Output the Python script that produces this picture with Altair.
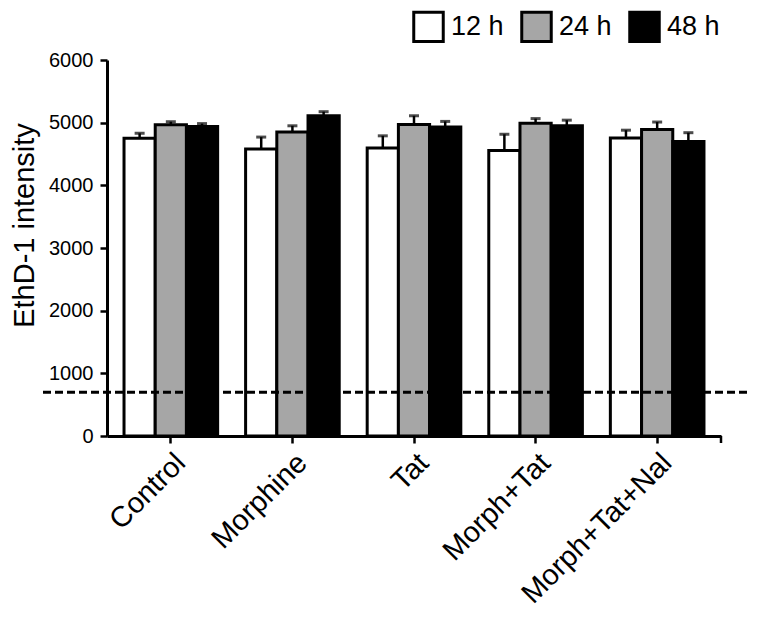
import altair as alt
import pandas as pd

groups = ["Control", "Morphine", "Tat", "Morph+Tat", "Morph+Tat+Nal"]
times = ["12 h", "24 h", "48 h"]
v12 = [4750, 4580, 4595, 4555, 4755]
v24 = [4965, 4850, 4970, 4990, 4890]
v48 = [4940, 5110, 4930, 4950, 4700]
e12 = [80, 190, 195, 260, 125]
e24 = [50, 100, 140, 75, 120]
e48 = [45, 65, 90, 90, 140]
threshold = [700]
y_ticks = [0, 1000, 2000, 3000, 4000, 5000, 6000]

rows = []
for i, g in enumerate(groups):
    for t, vals, errs in zip(times, [v12, v24, v48], [e12, e24, e48]):
        rows.append({"group": g, "time": t, "value": vals[i], "upper": vals[i] + errs[i]})
df = pd.DataFrame(rows)

FONT = "Liberation Sans"
W, H = 614, 376
YTITLE = "EthD-1 intensity"

x_enc = alt.X(
    "group:N", sort=groups, title=None,
    scale=alt.Scale(paddingInner=0.23, paddingOuter=0.14),
    axis=alt.Axis(labelAngle=-45, labelFontSize=29, labelFont=FONT, labelColor="black",
                  labelPadding=5, tickSize=7, tickWidth=2.5, tickColor="black",
                  domainColor="black", domainWidth=3, labelLimit=400),
)
xo_enc = alt.XOffset("time:N", sort=times, scale=alt.Scale(paddingInner=0, paddingOuter=0))

y_scale = alt.Scale(domain=[0, 6000], nice=False)
y_axis = alt.Axis(values=y_ticks, format="d", grid=False, labelFontSize=20, labelFont=FONT,
                  labelColor="black", labelPadding=7, tickSize=7, tickWidth=2.5, tickColor="black",
                  domainColor="black", domainWidth=3, titleFontSize=29, titleFont=FONT,
                  titleFontWeight="normal", titleColor="black", titlePadding=9, titleY=165)

bars = alt.Chart(df).mark_bar(stroke="black", strokeWidth=3).encode(
    x=x_enc, xOffset=xo_enc,
    y=alt.Y("value:Q", scale=y_scale, axis=y_axis, title=YTITLE),
    fill=alt.Fill("time:N", sort=times,
                  scale=alt.Scale(domain=times, range=["#ffffff", "#a6a6a6", "#000000"]),
                  legend=alt.Legend(orient="none", legendX=305, legendY=-50, direction="horizontal",
                                    title=None, symbolType="square", symbolSize=870,
                                    symbolStrokeColor="black", symbolStrokeWidth=3,
                                    labelFontSize=27, labelFont=FONT, labelColor="black",
                                    labelOffset=6, columnPadding=11, padding=0)),
)

stems = alt.Chart(df).mark_rule(color="black", strokeWidth=2.5).encode(
    x=x_enc, xOffset=xo_enc,
    y=alt.Y("value:Q", scale=y_scale, axis=y_axis, title=YTITLE),
    y2="upper:Q",
)

caps = alt.Chart(df).mark_tick(color="black", thickness=3, size=10, orient="horizontal").encode(
    x=x_enc, xOffset=xo_enc,
    y=alt.Y("upper:Q", scale=y_scale, axis=y_axis, title=YTITLE),
)

thresh = alt.Chart(pd.DataFrame({"t": threshold})).mark_rule(
    color="black", strokeWidth=3, strokeDash=[8, 4]
).encode(
    y=alt.Y("t:Q", scale=y_scale, axis=y_axis, title=YTITLE),
    x=alt.value(-64), x2=alt.value(643),
)

endtick = alt.Chart(pd.DataFrame({"a": [0]})).mark_rule(color="black", strokeWidth=2.5).encode(
    x=alt.value(W), y=alt.value(H), y2=alt.value(H + 7)
)

chart = alt.layer(bars, stems, caps, thresh, endtick).properties(
    width=W, height=H,
    autosize=alt.AutoSizeParams(type="none"),
    padding={"left": 99, "top": 52, "right": 29, "bottom": 190},
    background="white",
).configure_view(stroke=None)

chart.save("out.html", embed_options={"renderer": "svg", "actions": False})
